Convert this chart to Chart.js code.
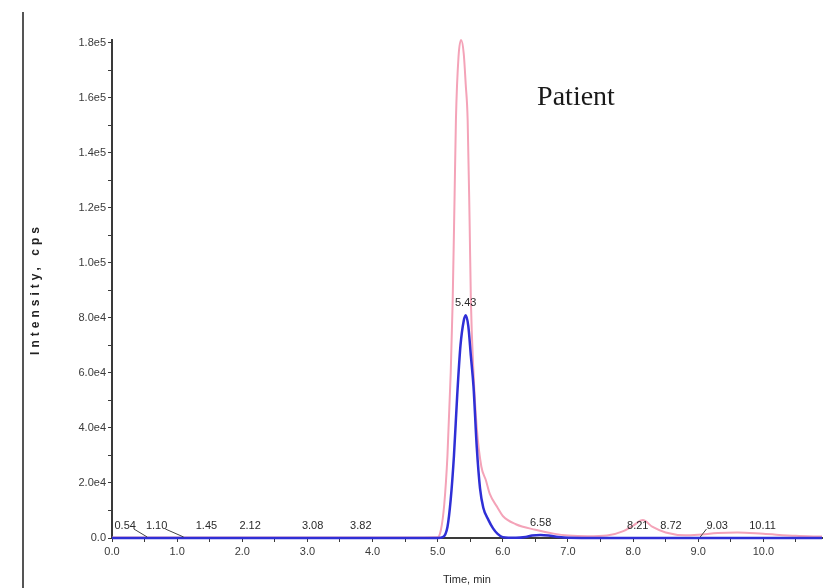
<!DOCTYPE html>
<html>
<head>
<meta charset="utf-8">
<script src="https://cdn.jsdelivr.net/npm/chart.js@4/dist/chart.umd.min.js"></script>
<style>
  html, body { margin: 0; padding: 0; background: #ffffff; }
  canvas { display: block; }
</style>
</head>
<body>
<canvas id="xic" width="826" height="588"></canvas>
<script>
// Retention time axis (min) and intensity (cps) for the two traces
const blueTime = [0, 0.5, 1.0, 1.5, 2.0, 2.5, 3.0, 3.5, 4.0, 4.5, 5.0, 5.08, 5.15, 5.2, 5.25, 5.3, 5.35, 5.4, 5.43, 5.47, 5.51, 5.55, 5.6, 5.65, 5.7, 5.78, 5.85, 5.92, 6.0, 6.2, 6.35, 6.45, 6.58, 6.7, 6.85, 7.0, 7.5, 8.0, 8.5, 9.0, 9.5, 10.0, 10.5, 10.9];
const blueIntensity = [0, 0, 0, 0, 0, 0, 0, 0, 0, 0, 0, 300, 4000, 14000, 30000, 52000, 70000, 79000, 81000, 77000, 66000, 55000, 33000, 18000, 11000, 6500, 3500, 1500, 300, 100, 400, 900, 1100, 900, 400, 100, 0, 0, 0, 0, 0, 0, 0, 0];

const pinkTime = [0, 1, 2, 3, 4, 4.5, 5.0, 5.05, 5.1, 5.15, 5.2, 5.23, 5.26, 5.28, 5.32, 5.36, 5.4, 5.43, 5.46, 5.49, 5.51, 5.55, 5.6, 5.67, 5.74, 5.8, 5.92, 6.0, 6.2, 6.5, 6.8, 7.0, 7.3, 7.6, 7.85, 8.0, 8.15, 8.3, 8.5, 8.8, 9.0, 9.3, 9.6, 10.0, 10.5, 10.9];
const pinkIntensity = [200, 200, 200, 200, 200, 200, 300, 3000, 12000, 30000, 60000, 86000, 125000, 152000, 175000, 181000, 176000, 165000, 152000, 115000, 86000, 60000, 40000, 26000, 21000, 16000, 11000, 8000, 5000, 3000, 1500, 900, 600, 900, 2500, 4500, 6500, 4000, 2000, 1000, 1200, 1800, 2000, 1500, 800, 500];

// Apex retention times annotated along the trace
const peakLabels = ['0.54', '1.10', '1.45', '2.12', '3.08', '3.82', '5.43', '6.58', '8.21', '8.72', '9.03', '10.11'];

// Axis ranges and tick spacing
const xMin = 0, xMax = 10.9, xStep = 0.5, xLast = 10.5;
const yMin = 0, yMax = 181000, yStep = 10000, yLast = 180000;

const toPoints = (xs, ys) => xs.map((x, i) => ({ x: x, y: ys[i] }));

function tickList(first, last, step) {
  const out = [];
  const n = Math.round((last - first) / step);
  for (let i = 0; i <= n; i++) out.push({ value: +(first + i * step).toFixed(6) });
  return out;
}

function blueAt(t) {
  for (let i = 1; i < blueTime.length; i++) {
    if (t <= blueTime[i]) {
      const a = blueTime[i - 1], b = blueTime[i];
      const f = (t - a) / (b - a);
      return blueIntensity[i - 1] + f * (blueIntensity[i] - blueIntensity[i - 1]);
    }
  }
  return 0;
}

// Peak annotations, frame line, axis title and sample caption
const decorations = {
  id: 'decorations',
  afterDraw(chart) {
    const { ctx, chartArea, scales: { x, y } } = chart;
    ctx.save();
    // outer frame line on the left
    ctx.strokeStyle = '#555';
    ctx.lineWidth = 2;
    ctx.beginPath();
    ctx.moveTo(23, 12);
    ctx.lineTo(23, 588);
    ctx.stroke();

    // y axis title, widely spaced
    ctx.save();
    ctx.translate(36, (chartArea.top + chartArea.bottom) / 2);
    ctx.rotate(-Math.PI / 2);
    ctx.font = 'bold 12px "Liberation Sans", Arial, sans-serif';
    if ('letterSpacing' in ctx) ctx.letterSpacing = '4px';
    ctx.fillStyle = '#222';
    ctx.textAlign = 'center';
    ctx.textBaseline = 'middle';
    ctx.fillText('Intensity, cps', 0, 0);
    ctx.restore();

    // peak retention-time labels
    const nudge = { '0.54': -22, '1.10': -27, '8.21': -9, '8.72': -9, '9.03': 17, '10.11': -8 };
    const leader = { '0.54': true, '1.10': true, '9.03': true };
    ctx.font = '11px "Liberation Sans", Arial, sans-serif';
    ctx.fillStyle = '#2a2a2a';
    ctx.textAlign = 'center';
    ctx.textBaseline = 'middle';
    peakLabels.forEach(lbl => {
      const t = parseFloat(lbl);
      const px = x.getPixelForValue(t);
      const py = y.getPixelForValue(blueAt(t)) - 12;
      const dx = nudge[lbl] || 0;
      ctx.fillText(lbl, px + dx, py);
      if (leader[lbl]) {
        const w = ctx.measureText(lbl).width;
        const sx = dx < 0 ? px + dx + w / 2 - 2 : px + dx - w / 2;
        ctx.strokeStyle = '#444';
        ctx.lineWidth = 1;
        ctx.beginPath();
        ctx.moveTo(sx, py + 3);
        ctx.lineTo(px, y.getPixelForValue(0) - 1);
        ctx.stroke();
      }
    });

    // sample caption
    ctx.font = '28px "Liberation Serif", "Times New Roman", serif';
    ctx.fillStyle = '#1a1a1a';
    ctx.textAlign = 'center';
    ctx.fillText('Patient', 576, 98);
    ctx.restore();
  }
};

const onStep = (v, step) => Math.abs(v / step - Math.round(v / step)) < 1e-6;

new Chart(document.getElementById('xic'), {
  type: 'line',
  data: {
    datasets: [
      {
        label: 'Transition 2',
        data: toPoints(blueTime, blueIntensity),
        borderColor: '#2f2fd6',
        borderWidth: 2.5,
        pointRadius: 0,
        cubicInterpolationMode: 'monotone',
        fill: false,
        clip: 4
      },
      {
        label: 'Transition 1',
        data: toPoints(pinkTime, pinkIntensity),
        borderColor: '#f4a3b8',
        borderWidth: 2,
        pointRadius: 0,
        cubicInterpolationMode: 'monotone',
        fill: false,
        clip: 4
      }
    ]
  },
  options: {
    responsive: false,
    animation: false,
    devicePixelRatio: 1,
    layout: { padding: { left: 0, right: 4, top: 40, bottom: 0 } },
    plugins: {
      legend: { display: false },
      tooltip: { enabled: false }
    },
    scales: {
      x: {
        type: 'linear',
        min: xMin,
        max: xMax,
        border: { color: '#3a3a3a', width: 2 },
        grid: { display: true, drawOnChartArea: false, drawTicks: true, tickLength: 4, color: '#3a3a3a' },
        ticks: {
          autoSkip: false,
          maxRotation: 0,
          padding: 3,
          color: '#3a3a3a',
          font: { family: '"Liberation Sans", Arial, sans-serif', size: 11 },
          callback: v => onStep(v, 1) ? v.toFixed(1) : ''
        },
        afterBuildTicks: s => { s.ticks = tickList(xMin, xLast, xStep); },
        afterFit: s => { s.height = 50; },
        title: {
          display: true,
          text: 'Time, min',
          color: '#2a2a2a',
          font: { family: '"Liberation Sans", Arial, sans-serif', size: 11 },
          padding: { top: 0, bottom: 1 }
        }
      },
      y: {
        type: 'linear',
        min: yMin,
        max: yMax,
        border: { color: '#3a3a3a', width: 2 },
        grid: { display: true, drawOnChartArea: false, drawTicks: true, tickLength: 4, color: '#3a3a3a' },
        ticks: {
          autoSkip: false,
          padding: 2,
          color: '#3a3a3a',
          font: { family: '"Liberation Sans", Arial, sans-serif', size: 11 },
          callback: v => {
            if (!onStep(v, 20000)) return '';
            if (v === 0) return '0.0';
            const e = Math.floor(Math.log10(v));
            return (v / Math.pow(10, e)).toFixed(1) + 'e' + e;
          }
        },
        afterBuildTicks: s => { s.ticks = tickList(yMin, yLast, yStep); },
        afterFit: s => { s.width = 112; },
        title: { display: false }
      }
    }
  },
  plugins: [decorations]
});
</script>
</body>
</html>
